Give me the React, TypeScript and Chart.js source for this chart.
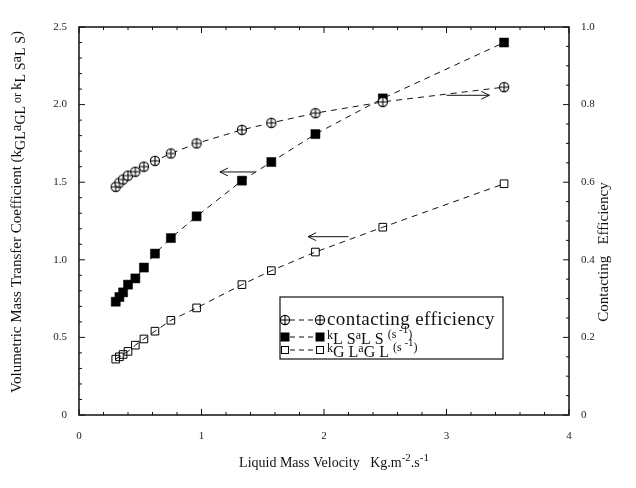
import React, { useEffect, useRef } from 'react';
import { Chart, registerables } from 'chart.js';

Chart.register(...registerables);

// ---- Data ----
const liquidVelocity = [0.30, 0.33, 0.36, 0.40, 0.46, 0.53, 0.62, 0.75, 0.96, 1.33, 1.57, 1.93, 2.48, 3.47];
const contactingEfficiency = [0.588, 0.599, 0.607, 0.617, 0.627, 0.640, 0.655, 0.674, 0.700, 0.735, 0.753, 0.778, 0.807, 0.845];
const kLSaLS = [0.73, 0.76, 0.79, 0.84, 0.88, 0.95, 1.04, 1.14, 1.28, 1.51, 1.63, 1.81, 2.04, 2.40];
const kGLaGL = [0.36, 0.375, 0.39, 0.41, 0.45, 0.49, 0.54, 0.61, 0.69, 0.84, 0.93, 1.05, 1.21, 1.49];

// annotation arrows (data units, left axis)
const arrowTailX = [1.44, 3.0, 2.2];
const arrowHeadX = [1.15, 3.35, 1.87];
const arrowY = [1.566, 2.06, 1.149];

const FONT = "'Liberation Serif', 'Times New Roman', serif";

type Seg = { t: string; s: number; dy?: number };

function drawRich(ctx: CanvasRenderingContext2D, segs: Seg[], x: number, y: number, rot: number, align: 'left' | 'center', spacing = 0) {
  ctx.save();
  ctx.translate(x, y);
  ctx.rotate(rot);
  (ctx as any).letterSpacing = spacing + 'px';
  let total = 0;
  for (const s of segs) {
    ctx.font = `${s.s}px ${FONT}`;
    total += ctx.measureText(s.t).width;
  }
  let cx = align === 'center' ? -total / 2 : 0;
  ctx.textAlign = 'left';
  ctx.textBaseline = 'alphabetic';
  ctx.fillStyle = '#111';
  for (const s of segs) {
    ctx.font = `${s.s}px ${FONT}`;
    ctx.fillText(s.t, cx, s.dy || 0);
    cx += ctx.measureText(s.t).width;
  }
  ctx.restore();
}

function makeCrossCircle(): HTMLCanvasElement {
  const c = document.createElement('canvas');
  c.width = 12;
  c.height = 12;
  const g = c.getContext('2d')!;
  g.fillStyle = '#fff';
  g.strokeStyle = '#000';
  g.lineWidth = 1.1;
  g.beginPath();
  g.arc(6, 6, 4.6, 0, Math.PI * 2);
  g.fill();
  g.stroke();
  g.beginPath();
  g.moveTo(1.4, 6);
  g.lineTo(10.6, 6);
  g.moveTo(6, 1.4);
  g.lineTo(6, 10.6);
  g.stroke();
  return c;
}

function drawArrow(ctx: CanvasRenderingContext2D, x1: number, y1: number, x2: number, y2: number) {
  const ang = Math.atan2(y2 - y1, x2 - x1);
  ctx.beginPath();
  ctx.moveTo(x1, y1);
  ctx.lineTo(x2, y2);
  ctx.moveTo(x2 - 9 * Math.cos(ang - 0.45), y2 - 9 * Math.sin(ang - 0.45));
  ctx.lineTo(x2, y2);
  ctx.lineTo(x2 - 9 * Math.cos(ang + 0.45), y2 - 9 * Math.sin(ang + 0.45));
  ctx.stroke();
}

export default function App() {
  const ref = useRef<HTMLCanvasElement>(null);

  useEffect(() => {
    const canvas = ref.current!;
    const crossImg = makeCrossCircle();

    const decor = {
      id: 'decor',
      afterDraw(chart: any) {
        const ctx: CanvasRenderingContext2D = chart.ctx;
        const a = chart.chartArea;
        const xs = chart.scales.x;
        const ys = chart.scales.y;
        const y1s = chart.scales.y1;
        ctx.save();
        // frame
        ctx.strokeStyle = '#111';
        ctx.lineWidth = 1.5;
        ctx.setLineDash([]);
        ctx.strokeRect(a.left, a.top, a.right - a.left, a.bottom - a.top);
        // ticks
        ctx.lineWidth = 1;
        ctx.beginPath();
        for (let i = 0; i <= 25; i++) {
          const v = i / 10;
          const p = ys.getPixelForValue(v);
          const len = i % 5 === 0 ? 6 : 3;
          ctx.moveTo(a.left, p);
          ctx.lineTo(a.left + len, p);
        }
        for (let i = 0; i <= 20; i++) {
          const v = i / 20;
          const p = y1s.getPixelForValue(v);
          const len = i % 4 === 0 ? 6 : 3;
          ctx.moveTo(a.right, p);
          ctx.lineTo(a.right - len, p);
        }
        for (let i = 0; i <= 20; i++) {
          const v = i / 5;
          const p = xs.getPixelForValue(v);
          const len = i % 5 === 0 ? 6 : 3;
          ctx.moveTo(p, a.bottom);
          ctx.lineTo(p, a.bottom - len);
          ctx.moveTo(p, a.top);
          ctx.lineTo(p, a.top + len);
        }
        ctx.stroke();

        // arrows
        ctx.lineWidth = 1;
        for (let i = 0; i < arrowY.length; i++) {
          const py = ys.getPixelForValue(arrowY[i]);
          drawArrow(ctx, xs.getPixelForValue(arrowTailX[i]), py, xs.getPixelForValue(arrowHeadX[i]), py);
        }

        // legend
        const lx = 280, ly = 297, lw = 223, lh = 62;
        ctx.fillStyle = '#fff';
        ctx.fillRect(lx, ly, lw, lh);
        ctx.strokeStyle = '#111';
        ctx.lineWidth = 1.2;
        ctx.strokeRect(lx, ly, lw, lh);
        const rows = [320, 337, 350];
        const m1 = 285, m2 = 320;
        ctx.lineWidth = 1;
        ctx.setLineDash([5, 4]);
        ctx.beginPath();
        for (const r of rows) {
          ctx.moveTo(m1 + 5, r);
          ctx.lineTo(m2 - 5, r);
        }
        ctx.stroke();
        ctx.setLineDash([]);
        for (const mx of [m1, m2]) {
          ctx.drawImage(crossImg, mx - 6, rows[0] - 6);
          ctx.fillStyle = '#000';
          ctx.fillRect(mx - 4.5, rows[1] - 4.5, 9, 9);
          ctx.strokeStyle = '#000';
          ctx.strokeRect(mx - 3.5, rows[2] - 3.5, 7, 7);
        }
        drawRich(ctx, [{ t: 'contacting efficiency', s: 19 }], 327, 325, 0, 'left', 0.4);
        drawRich(ctx, [
          { t: 'k', s: 12, dy: -5 },
          { t: 'L S', s: 16 },
          { t: 'a', s: 12, dy: -5 },
          { t: 'L S ', s: 16 },
          { t: '(s', s: 12, dy: -6 },
          { t: ' -1', s: 11, dy: -11 },
          { t: ')', s: 12, dy: -6 },
        ], 327, 344, 0, 'left');
        drawRich(ctx, [
          { t: 'k', s: 12, dy: -5 },
          { t: 'G L', s: 16 },
          { t: 'a', s: 12, dy: -5 },
          { t: 'G L ', s: 16 },
          { t: '(s', s: 12, dy: -6 },
          { t: ' -1', s: 11, dy: -11 },
          { t: ')', s: 12, dy: -6 },
        ], 327, 357, 0, 'left');

        // axis titles
        drawRich(ctx, [
          { t: 'Volumetric Mass Transfer Coefficient (k', s: 15 },
          { t: 'GL', s: 14, dy: 4 },
          { t: 'a', s: 15 },
          { t: 'GL', s: 14, dy: 4 },
          { t: ' or ', s: 12 },
          { t: 'k', s: 15 },
          { t: 'L S', s: 14, dy: 4 },
          { t: 'a', s: 15 },
          { t: 'L S', s: 14, dy: 4 },
          { t: ')', s: 15 },
        ], 21, 212, -Math.PI / 2, 'center');
        drawRich(ctx, [{ t: 'Contacting   Efficiency', s: 15 }], 608, 252, -Math.PI / 2, 'center');
        drawRich(ctx, [
          { t: 'Liquid Mass Velocity   Kg.m', s: 14 },
          { t: '-2', s: 11, dy: -6 },
          { t: '.s', s: 14 },
          { t: '-1', s: 11, dy: -6 },
        ], 334, 467, 0, 'center');
        ctx.restore();
      },
    };

    const fmt = (v: any) => (Number(v) === 0 ? '0' : Number(v).toFixed(1));
    const tickFont = { family: FONT, size: 11 };

    const chart = new Chart(canvas, {
      type: 'line',
      data: {
        datasets: [
          {
            label: 'contacting efficiency',
            data: liquidVelocity.map((x, i) => ({ x, y: contactingEfficiency[i] })),
            yAxisID: 'y1',
            borderColor: '#111',
            borderWidth: 1,
            borderDash: [6, 5],
            pointStyle: crossImg as any,
            pointRadius: 5,
            fill: false,
          },
          {
            label: 'kLSaLS (s-1)',
            data: liquidVelocity.map((x, i) => ({ x, y: kLSaLS[i] })),
            yAxisID: 'y',
            borderColor: '#111',
            borderWidth: 1,
            borderDash: [6, 5],
            pointStyle: 'rect',
            pointRadius: 6.4,
            pointBackgroundColor: '#000',
            pointBorderColor: '#000',
            pointBorderWidth: 0.5,
            fill: false,
          },
          {
            label: 'kGLaGL (s-1)',
            data: liquidVelocity.map((x, i) => ({ x, y: kGLaGL[i] })),
            yAxisID: 'y',
            borderColor: '#111',
            borderWidth: 1,
            borderDash: [6, 5],
            pointStyle: 'rect',
            pointRadius: 5.4,
            pointBackgroundColor: 'rgba(255,255,255,0)',
            pointBorderColor: '#000',
            pointBorderWidth: 1,
            fill: false,
          },
        ],
      },
      options: {
        animation: false,
        responsive: false,
        devicePixelRatio: 1,
        layout: { padding: { top: 27, left: 0, right: 0, bottom: 0 } },
        plugins: { legend: { display: false }, tooltip: { enabled: false } },
        scales: {
          x: {
            type: 'linear',
            min: 0,
            max: 4,
            grid: { display: false },
            border: { display: false },
            ticks: { stepSize: 1, padding: 7, color: '#222', font: tickFont, callback: (v: any) => String(v) },
            afterFit: (s: any) => { s.height = 73; },
          },
          y: {
            type: 'linear',
            position: 'left',
            min: 0,
            max: 2.5,
            grid: { display: false },
            border: { display: false },
            ticks: { stepSize: 0.5, padding: 4, color: '#222', font: tickFont, callback: fmt },
            afterFit: (s: any) => { s.width = 79; },
          },
          y1: {
            type: 'linear',
            position: 'right',
            min: 0,
            max: 1,
            grid: { display: false },
            border: { display: false },
            ticks: { stepSize: 0.2, padding: 4, color: '#222', font: tickFont, callback: fmt },
            afterFit: (s: any) => { s.width = 67; },
          },
        },
      },
      plugins: [decor],
    } as any);

    return () => chart.destroy();
  }, []);

  return (
    <div style={{ position: 'absolute', left: 0, top: 0, width: 636, height: 488, background: '#fff' }}>
      <canvas ref={ref} width={636} height={488} style={{ width: 636, height: 488, display: 'block' }} />
    </div>
  );
}
